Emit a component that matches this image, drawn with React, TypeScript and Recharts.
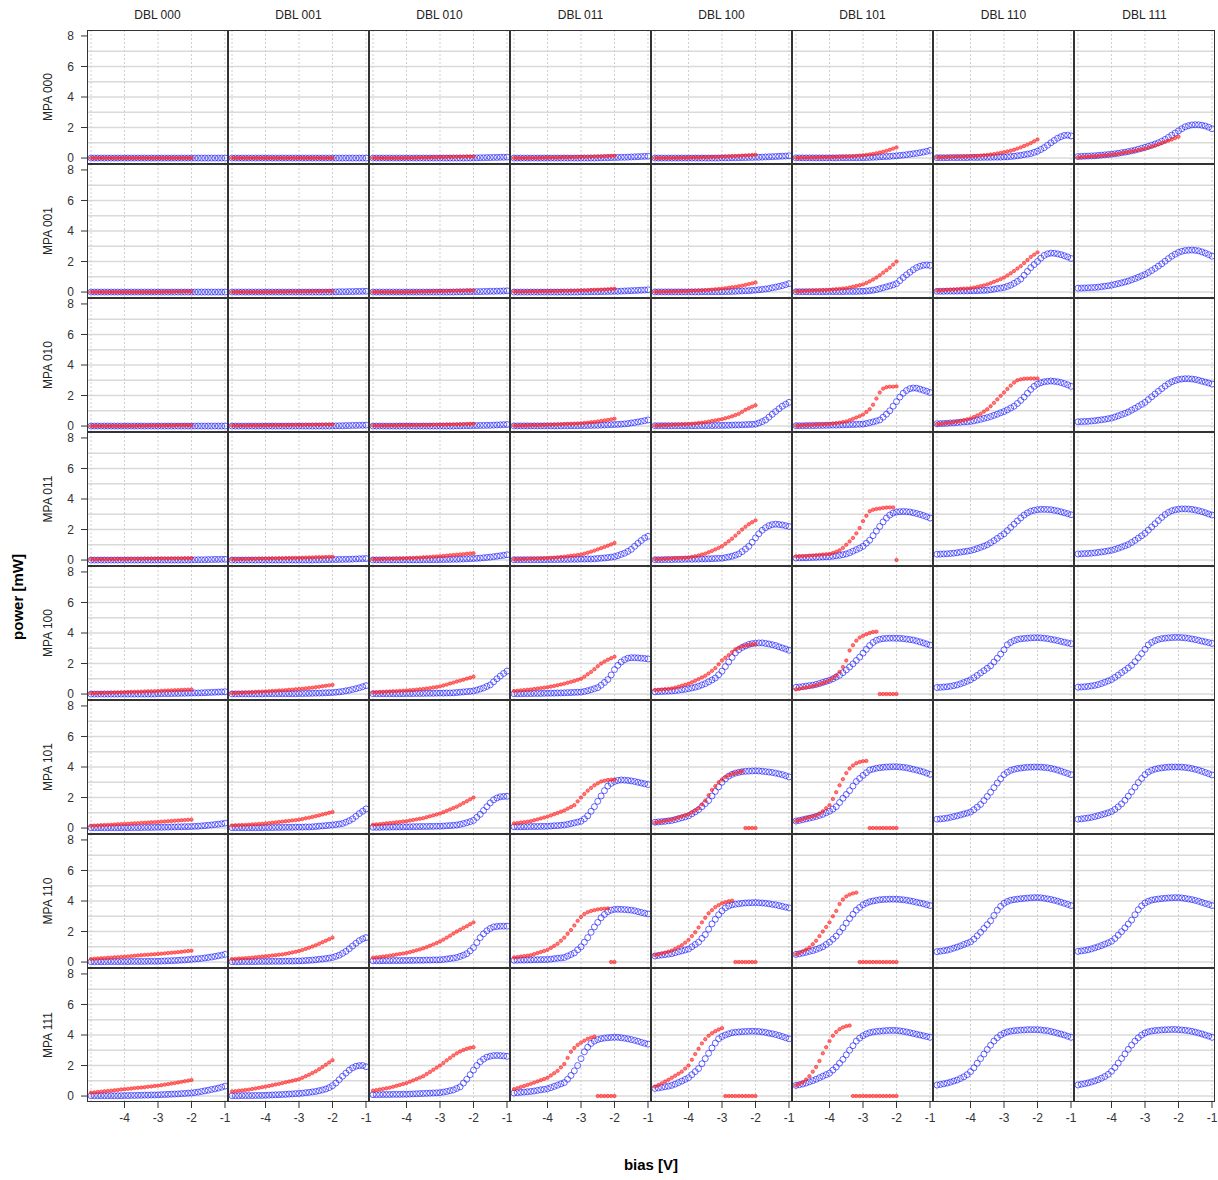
import React from "react";
import { ScatterChart, Scatter, XAxis, YAxis, ReferenceLine } from "recharts";

const dblLabels = ["DBL 000", "DBL 001", "DBL 010", "DBL 011", "DBL 100", "DBL 101", "DBL 110", "DBL 111"];
const mpaLabels = ["MPA 000", "MPA 001", "MPA 010", "MPA 011", "MPA 100", "MPA 101", "MPA 110", "MPA 111"];
const biasBlue = [-5, -4.9, -4.8, -4.7, -4.6, -4.5, -4.4, -4.3, -4.2, -4.1, -4, -3.9, -3.8, -3.7, -3.6, -3.5, -3.4, -3.3, -3.2, -3.1, -3, -2.9, -2.8, -2.7, -2.6, -2.5, -2.4, -2.3, -2.2, -2.1, -2, -1.9, -1.8, -1.7, -1.6, -1.5, -1.4, -1.3, -1.2, -1.1, -1];
const biasRed = biasBlue.slice(0, 31);
const yTicks = [0, 2, 4, 6, 8];
const xTicks = [-4, -3, -2, -1];
const hGrid = [0, 1, 2, 3, 4, 5, 6, 7];
const vGrid = [-5, -4, -3, -2, -1];

// ---- MPA 000 ----
const b00 = [0,0,0,0,0,0,0,0,0,0, 0,0,0,0,0,0,0,0,0,0, 0,0,0,0,0,0,0,0,0,0, 0,0,0,0,0,0,0,0,0,0, 0];
const r00 = [0,0,0,0,0,0,0,0,0,0, 0,0,0,0,0,0,0,0,0,0, 0,0,0,0,0,0,0,0,0,0, 0];
const b01 = [0,0,0,0,0,0,0,0,0,0, 0,0,0,0,0,0,0,0,0,0, 0,0,0,0,0,0,0,0,0,0, 0,0,0,0,0,0,0,0,0,0, 0];
const r01 = [0,0,0,0,0,0,0,0,0,0, 0,0,0,0,0,0,0,0,0,0, 0,0,0,0,0,0,0,0,0,0, 0];
const b02 = [0,0,0,0,0,0,0,0,0,0, 0,0,0,0,0,0,0,0,0,0, 0,0,0,0,0,0,0,0,0,0, 0.01,0.01,0.02,0.02,0.03,0.03,0.04,0.04,0.05,0.05, 0.06];
const r02 = [0,0,0,0,0,0,0,0,0,0, 0.01,0.01,0.02,0.02,0.03,0.03,0.04,0.04,0.05,0.05, 0.06,0.06,0.07,0.07,0.08,0.08,0.09,0.09,0.1,0.1, 0.1];
const b03 = [0,0,0,0,0,0,0,0,0,0, 0,0,0,0,0,0,0,0,0,0, 0,0,0,0,0,0.01,0.01,0.02,0.02,0.03, 0.03,0.04,0.05,0.05,0.06,0.07,0.08,0.09,0.1,0.11, 0.12];
const r03 = [0,0,0,0,0,0.01,0.01,0.01,0.02,0.02, 0.02,0.03,0.03,0.04,0.04,0.05,0.05,0.06,0.06,0.07, 0.07,0.08,0.08,0.09,0.1,0.1,0.11,0.12,0.13,0.14, 0.15];
const b04 = [0,0,0,0,0,0,0,0,0,0, 0,0,0,0,0,0,0,0,0,0, 0.01,0.01,0.01,0.02,0.02,0.02,0.03,0.03,0.04,0.04, 0.05,0.05,0.06,0.07,0.08,0.09,0.1,0.11,0.12,0.13, 0.15];
const r04 = [0,0,0,0,0.01,0.01,0.01,0.02,0.02,0.02, 0.03,0.03,0.04,0.04,0.05,0.05,0.06,0.07,0.07,0.08, 0.09,0.1,0.11,0.12,0.13,0.14,0.16,0.17,0.18,0.2, 0.22];
const b05 = [0.01,0.01,0.01,0.01,0.01,0.01,0.01,0.01,0.01,0.01, 0.01,0.01,0.01,0.02,0.02,0.02,0.02,0.02,0.02,0.02, 0.02,0.03,0.04,0.05,0.06,0.08,0.09,0.1,0.11,0.13, 0.15,0.17,0.19,0.22,0.25,0.28,0.31,0.35,0.39,0.44, 0.5];
const r05 = [0.02,0.02,0.03,0.03,0.03,0.04,0.04,0.05,0.05,0.06, 0.06,0.07,0.07,0.08,0.09,0.1,0.11,0.12,0.14,0.16, 0.18,0.21,0.24,0.27,0.31,0.36,0.41,0.47,0.54,0.62, 0.7];
const b06 = [0.02,0.02,0.02,0.02,0.03,0.03,0.03,0.03,0.03,0.03, 0.04,0.04,0.04,0.04,0.05,0.05,0.05,0.06,0.06,0.06, 0.07,0.08,0.1,0.12,0.15,0.18,0.22,0.26,0.3,0.37, 0.45,0.56,0.68,0.84,1.0,1.15,1.3,1.4,1.48,1.5, 1.45];
const r06 = [0.05,0.06,0.06,0.07,0.08,0.08,0.09,0.1,0.1,0.11, 0.12,0.13,0.14,0.16,0.18,0.2,0.23,0.26,0.3,0.34, 0.38,0.43,0.48,0.54,0.62,0.7,0.79,0.88,0.98,1.1, 1.22];
const b07 = [0.1,0.11,0.12,0.13,0.14,0.15,0.17,0.19,0.21,0.23, 0.25,0.28,0.31,0.35,0.38,0.42,0.47,0.52,0.58,0.64, 0.7,0.77,0.84,0.92,1.0,1.1,1.22,1.36,1.5,1.64, 1.78,1.92,2.05,2.12,2.17,2.18,2.18,2.15,2.1,2.02, 1.92];
const r07 = [0.05,0.06,0.08,0.09,0.11,0.12,0.14,0.16,0.18,0.2, 0.22,0.25,0.29,0.32,0.36,0.4,0.44,0.48,0.53,0.57, 0.62,0.68,0.75,0.82,0.9,0.98,1.06,1.14,1.22,1.31, 1.4];

// ---- MPA 001 ----
const b10 = [0,0,0,0,0,0,0,0,0,0, 0,0,0,0,0,0,0,0,0,0, 0,0,0,0,0,0,0,0,0,0, 0,0,0,0,0,0,0,0,0,0, 0];
const r10 = [0,0,0,0,0,0,0,0,0,0, 0,0,0,0,0,0,0,0,0,0, 0.01,0.01,0.02,0.02,0.02,0.03,0.03,0.03,0.04,0.04, 0.04];
const b11 = [0,0,0,0,0,0,0,0,0,0, 0,0,0,0,0,0,0,0,0,0, 0,0,0,0,0,0,0,0,0,0, 0.01,0.01,0.02,0.02,0.02,0.03,0.03,0.04,0.04,0.05, 0.05];
const r11 = [0,0,0,0,0,0,0,0,0,0, 0.01,0.01,0.01,0.02,0.02,0.02,0.02,0.03,0.03,0.03, 0.03,0.04,0.04,0.04,0.05,0.05,0.05,0.05,0.06,0.06, 0.06];
const b12 = [0,0,0,0,0,0,0,0,0,0, 0,0,0,0,0,0,0,0,0,0, 0,0,0,0,0,0.01,0.01,0.01,0.02,0.02, 0.02,0.03,0.03,0.04,0.04,0.05,0.05,0.06,0.06,0.07, 0.08];
const r12 = [0,0,0,0,0,0,0,0,0,0, 0.01,0.01,0.02,0.02,0.03,0.03,0.04,0.04,0.05,0.05, 0.06,0.06,0.07,0.07,0.08,0.08,0.09,0.09,0.1,0.1, 0.1];
const b13 = [0,0,0,0,0,0,0,0,0,0, 0,0,0,0,0,0,0,0,0,0, 0.01,0.01,0.01,0.02,0.02,0.02,0.03,0.03,0.04,0.04, 0.05,0.05,0.06,0.07,0.08,0.09,0.1,0.11,0.12,0.13, 0.15];
const r13 = [0.03,0.03,0.03,0.03,0.04,0.04,0.04,0.04,0.05,0.05, 0.05,0.06,0.06,0.07,0.07,0.08,0.08,0.09,0.09,0.1, 0.11,0.11,0.12,0.13,0.14,0.15,0.16,0.17,0.18,0.2, 0.22];
const b14 = [0.01,0.01,0.01,0.01,0.01,0.01,0.01,0.01,0.01,0.01, 0.01,0.01,0.01,0.01,0.02,0.02,0.02,0.02,0.02,0.02, 0.02,0.03,0.03,0.04,0.05,0.06,0.07,0.08,0.09,0.11, 0.13,0.15,0.17,0.2,0.23,0.28,0.32,0.37,0.42,0.48, 0.55];
const r14 = [0.02,0.02,0.03,0.03,0.04,0.04,0.05,0.05,0.06,0.06, 0.07,0.08,0.09,0.1,0.11,0.12,0.14,0.16,0.18,0.2, 0.22,0.25,0.28,0.31,0.34,0.38,0.42,0.47,0.52,0.57, 0.63];
const b15 = [0.02,0.02,0.02,0.02,0.02,0.02,0.02,0.02,0.02,0.02, 0.03,0.03,0.03,0.03,0.03,0.04,0.04,0.04,0.04,0.05, 0.05,0.07,0.09,0.12,0.16,0.22,0.28,0.34,0.4,0.47, 0.55,0.75,0.95,1.13,1.3,1.46,1.6,1.69,1.75,1.77, 1.75];
const r15 = [0.05,0.06,0.07,0.08,0.09,0.1,0.11,0.12,0.13,0.14, 0.15,0.17,0.19,0.21,0.23,0.25,0.3,0.35,0.4,0.45, 0.5,0.6,0.7,0.82,0.95,1.1,1.27,1.43,1.6,1.8, 2.0];
const b16 = [0.05,0.05,0.05,0.06,0.06,0.06,0.06,0.07,0.07,0.07, 0.08,0.08,0.09,0.1,0.11,0.12,0.15,0.19,0.23,0.26, 0.3,0.37,0.45,0.57,0.7,0.85,1.1,1.35,1.6,1.8, 2.0,2.22,2.4,2.5,2.55,2.54,2.5,2.45,2.38,2.3, 2.2];
const r16 = [0.1,0.11,0.13,0.14,0.16,0.17,0.19,0.21,0.22,0.23, 0.25,0.29,0.34,0.39,0.44,0.5,0.58,0.67,0.76,0.85, 0.95,1.09,1.23,1.38,1.54,1.7,1.9,2.1,2.3,2.45, 2.6];
const b17 = [0.25,0.26,0.27,0.28,0.29,0.3,0.32,0.35,0.38,0.41, 0.45,0.5,0.55,0.6,0.66,0.72,0.8,0.88,0.97,1.06, 1.15,1.28,1.41,1.55,1.7,1.85,2.02,2.19,2.35,2.48, 2.6,2.67,2.72,2.74,2.75,2.73,2.7,2.63,2.55,2.45, 2.35];

// ---- MPA 010 ----
const b20 = [0,0,0,0,0,0,0,0,0,0, 0,0,0,0,0,0,0,0,0,0, 0,0,0,0,0,0,0,0,0,0, 0,0,0,0,0,0,0,0,0,0, 0];
const r20 = [0,0,0,0,0,0,0,0,0,0, 0.01,0.01,0.01,0.01,0.02,0.02,0.02,0.02,0.03,0.03, 0.03,0.03,0.04,0.04,0.04,0.04,0.05,0.05,0.05,0.05, 0.05];
const b21 = [0,0,0,0,0,0,0,0,0,0, 0,0,0,0,0,0,0,0,0,0, 0,0,0,0,0,0,0,0,0,0, 0.01,0.01,0.02,0.02,0.03,0.03,0.04,0.04,0.05,0.05, 0.06];
const r21 = [0.03,0.03,0.03,0.03,0.03,0.04,0.04,0.04,0.04,0.04, 0.05,0.05,0.05,0.05,0.06,0.06,0.06,0.06,0.07,0.07, 0.07,0.07,0.08,0.08,0.08,0.09,0.09,0.09,0.1,0.1, 0.1];
const b22 = [0,0,0,0,0,0,0,0,0,0, 0,0,0,0,0,0,0,0,0,0, 0,0,0,0,0,0.01,0.01,0.02,0.02,0.02, 0.03,0.03,0.04,0.04,0.05,0.05,0.06,0.07,0.08,0.09, 0.1];
const r22 = [0.03,0.03,0.03,0.03,0.04,0.04,0.04,0.04,0.05,0.05, 0.05,0.05,0.06,0.06,0.06,0.07,0.07,0.07,0.08,0.08, 0.09,0.09,0.1,0.1,0.11,0.11,0.12,0.12,0.13,0.14, 0.15];
const b23 = [0.01,0.01,0.01,0.01,0.01,0.01,0.01,0.01,0.01,0.01, 0.01,0.01,0.01,0.01,0.01,0.02,0.02,0.02,0.02,0.02, 0.03,0.03,0.04,0.04,0.05,0.05,0.06,0.07,0.08,0.09, 0.1,0.11,0.12,0.14,0.16,0.2,0.23,0.27,0.31,0.35, 0.4];
const r23 = [0.03,0.03,0.04,0.04,0.05,0.05,0.06,0.06,0.07,0.07, 0.08,0.09,0.1,0.11,0.12,0.13,0.14,0.15,0.16,0.17, 0.18,0.2,0.22,0.25,0.27,0.3,0.33,0.37,0.4,0.44, 0.48];
const b24 = [0.02,0.02,0.02,0.02,0.02,0.02,0.02,0.02,0.02,0.02, 0.02,0.02,0.02,0.03,0.03,0.03,0.03,0.03,0.04,0.04, 0.04,0.05,0.05,0.06,0.07,0.07,0.08,0.09,0.1,0.11, 0.13,0.2,0.29,0.4,0.58,0.77,0.95,1.13,1.3,1.43, 1.55];
const r24 = [0.03,0.04,0.05,0.06,0.07,0.08,0.09,0.1,0.11,0.12, 0.13,0.15,0.17,0.2,0.22,0.25,0.29,0.33,0.37,0.41, 0.45,0.51,0.57,0.64,0.72,0.8,0.93,1.07,1.17,1.27, 1.36];
const b25 = [0.02,0.02,0.02,0.03,0.03,0.03,0.04,0.04,0.04,0.05, 0.05,0.06,0.06,0.07,0.07,0.08,0.09,0.1,0.11,0.12, 0.13,0.17,0.22,0.27,0.33,0.4,0.58,0.78,1.0,1.3, 1.6,1.9,2.15,2.33,2.45,2.49,2.48,2.42,2.35,2.28, 2.2];
const r25 = [0.03,0.04,0.05,0.06,0.07,0.08,0.09,0.1,0.11,0.12, 0.13,0.16,0.19,0.22,0.26,0.3,0.38,0.47,0.56,0.65, 0.75,0.92,1.1,1.4,1.8,2.2,2.45,2.55,2.58,2.58, 2.6];
const b26 = [0.15,0.16,0.17,0.18,0.2,0.21,0.23,0.25,0.27,0.28, 0.3,0.34,0.39,0.44,0.5,0.55,0.62,0.7,0.78,0.87, 0.95,1.06,1.18,1.3,1.48,1.68,1.9,2.15,2.4,2.6, 2.75,2.84,2.9,2.93,2.95,2.93,2.9,2.85,2.78,2.7, 2.6];
const r26 = [0.13,0.15,0.17,0.2,0.22,0.25,0.29,0.33,0.38,0.44, 0.5,0.59,0.69,0.8,0.95,1.1,1.3,1.52,1.75,1.98, 2.2,2.43,2.65,2.85,3.0,3.06,3.1,3.11,3.12,3.12, 3.12];
const b27 = [0.28,0.29,0.3,0.31,0.33,0.35,0.38,0.41,0.44,0.48, 0.52,0.59,0.67,0.75,0.83,0.92,1.04,1.16,1.29,1.42, 1.55,1.73,1.92,2.1,2.28,2.45,2.62,2.77,2.9,2.98, 3.05,3.08,3.1,3.1,3.08,3.05,3.0,2.94,2.88,2.82, 2.75];

// ---- MPA 011 ----
const b30 = [0,0,0,0,0,0,0,0,0,0, 0,0,0,0,0,0,0,0,0,0, 0,0,0,0,0,0,0,0,0,0, 0.01,0.01,0.02,0.02,0.02,0.03,0.03,0.04,0.04,0.05, 0.05];
const r30 = [0.05,0.05,0.05,0.05,0.06,0.06,0.06,0.06,0.07,0.07, 0.07,0.07,0.08,0.08,0.08,0.08,0.09,0.09,0.09,0.09, 0.1,0.1,0.1,0.1,0.11,0.11,0.11,0.11,0.12,0.12, 0.12];
const b31 = [0,0,0,0,0,0,0,0,0,0, 0,0,0,0,0,0,0,0,0,0, 0,0,0,0,0,0.01,0.01,0.02,0.02,0.02, 0.03,0.03,0.04,0.04,0.05,0.05,0.06,0.07,0.08,0.09, 0.1];
const r31 = [0.05,0.05,0.06,0.06,0.07,0.07,0.08,0.08,0.09,0.09, 0.1,0.1,0.11,0.11,0.12,0.12,0.13,0.13,0.14,0.14, 0.15,0.15,0.16,0.17,0.17,0.18,0.19,0.19,0.2,0.21, 0.22];
const b32 = [0.01,0.01,0.01,0.01,0.01,0.01,0.01,0.01,0.01,0.01, 0.01,0.01,0.01,0.01,0.01,0.02,0.02,0.02,0.02,0.02, 0.03,0.03,0.04,0.04,0.05,0.05,0.06,0.07,0.08,0.09, 0.1,0.11,0.13,0.15,0.17,0.19,0.22,0.25,0.28,0.31, 0.35];
const r32 = [0.05,0.06,0.06,0.07,0.08,0.08,0.09,0.1,0.1,0.11, 0.12,0.13,0.14,0.15,0.16,0.18,0.19,0.2,0.22,0.23, 0.25,0.27,0.29,0.31,0.33,0.35,0.37,0.39,0.41,0.43, 0.45];
const b33 = [0.02,0.02,0.02,0.02,0.02,0.02,0.02,0.02,0.02,0.02, 0.02,0.03,0.03,0.03,0.04,0.04,0.04,0.05,0.05,0.05, 0.06,0.06,0.07,0.07,0.08,0.1,0.12,0.14,0.16,0.19, 0.22,0.29,0.37,0.45,0.57,0.7,0.9,1.1,1.28,1.45, 1.55];
const r33 = [0.05,0.06,0.06,0.07,0.08,0.09,0.09,0.1,0.11,0.12, 0.13,0.14,0.16,0.18,0.2,0.22,0.25,0.28,0.3,0.33, 0.36,0.42,0.48,0.55,0.62,0.7,0.78,0.86,0.94,1.03, 1.12];
const b34 = [0.02,0.02,0.02,0.03,0.03,0.03,0.04,0.04,0.04,0.05, 0.05,0.05,0.06,0.06,0.07,0.07,0.08,0.09,0.1,0.11, 0.12,0.16,0.2,0.25,0.32,0.4,0.55,0.72,0.9,1.17, 1.45,1.72,1.95,2.12,2.25,2.32,2.35,2.33,2.3,2.25, 2.2];
const r34 = [0.05,0.06,0.07,0.08,0.1,0.11,0.12,0.13,0.14,0.15, 0.17,0.21,0.25,0.3,0.36,0.42,0.51,0.6,0.7,0.8, 0.9,1.07,1.23,1.4,1.6,1.8,2.0,2.18,2.35,2.48, 2.6];
const b35 = [0.13,0.14,0.15,0.15,0.16,0.17,0.18,0.19,0.2,0.21, 0.22,0.25,0.28,0.31,0.35,0.4,0.48,0.58,0.68,0.78, 0.9,1.1,1.3,1.6,1.9,2.2,2.5,2.75,2.95,3.08, 3.15,3.17,3.18,3.17,3.15,3.1,3.05,2.99,2.92,2.84, 2.75];
const r35 = [0.24,0.25,0.26,0.27,0.29,0.3,0.32,0.34,0.36,0.38, 0.4,0.46,0.54,0.64,0.8,1.0,1.22,1.45,1.75,2.1, 2.55,2.9,3.2,3.3,3.35,3.38,3.42,3.44,3.45,3.45, 0];
const b36 = [0.38,0.39,0.4,0.41,0.43,0.45,0.48,0.52,0.55,0.58, 0.62,0.68,0.75,0.83,0.91,1.0,1.13,1.27,1.42,1.57, 1.72,1.93,2.14,2.35,2.56,2.76,2.95,3.09,3.2,3.26, 3.3,3.32,3.32,3.31,3.3,3.26,3.22,3.16,3.1,3.04, 2.97];
const b37 = [0.4,0.41,0.42,0.43,0.45,0.47,0.5,0.53,0.56,0.6, 0.64,0.7,0.77,0.85,0.93,1.02,1.15,1.29,1.44,1.59, 1.75,1.96,2.17,2.38,2.59,2.79,2.98,3.12,3.23,3.29, 3.33,3.35,3.35,3.34,3.32,3.28,3.23,3.17,3.1,3.02, 2.95];

// ---- MPA 100 ----
const b40 = [0,0,0,0,0,0,0,0,0,0, 0,0,0,0,0,0,0,0,0,0, 0.02,0.02,0.03,0.03,0.03,0.04,0.04,0.05,0.05,0.06, 0.06,0.07,0.07,0.08,0.09,0.1,0.11,0.12,0.13,0.14, 0.15];
const r40 = [0.05,0.06,0.06,0.07,0.08,0.08,0.09,0.1,0.1,0.11, 0.12,0.13,0.14,0.14,0.15,0.16,0.17,0.18,0.18,0.19, 0.2,0.21,0.22,0.23,0.24,0.25,0.26,0.27,0.28,0.29, 0.3];
const b41 = [0.01,0.01,0.01,0.01,0.01,0.01,0.01,0.01,0.01,0.01, 0.02,0.02,0.02,0.02,0.02,0.02,0.02,0.02,0.02,0.02, 0.03,0.03,0.04,0.04,0.05,0.06,0.06,0.07,0.08,0.09, 0.1,0.12,0.14,0.17,0.21,0.25,0.3,0.35,0.41,0.48, 0.55];
const r41 = [0.06,0.07,0.08,0.09,0.1,0.11,0.12,0.14,0.15,0.16, 0.17,0.18,0.2,0.21,0.23,0.24,0.26,0.28,0.29,0.31, 0.33,0.35,0.37,0.4,0.42,0.45,0.48,0.51,0.54,0.57, 0.6];
const b42 = [0.02,0.02,0.02,0.02,0.02,0.02,0.02,0.02,0.02,0.02, 0.03,0.03,0.03,0.04,0.04,0.04,0.05,0.05,0.05,0.06, 0.06,0.06,0.07,0.07,0.08,0.1,0.12,0.14,0.16,0.18, 0.2,0.26,0.33,0.4,0.5,0.6,0.8,1.0,1.18,1.35, 1.5];
const r42 = [0.1,0.11,0.13,0.14,0.16,0.17,0.18,0.19,0.21,0.22, 0.23,0.25,0.27,0.29,0.31,0.33,0.36,0.39,0.43,0.46, 0.5,0.56,0.62,0.69,0.75,0.82,0.88,0.94,1.01,1.07, 1.14];
const b43 = [0.02,0.02,0.02,0.03,0.03,0.03,0.04,0.04,0.04,0.05, 0.05,0.06,0.06,0.07,0.07,0.08,0.09,0.1,0.11,0.12, 0.13,0.17,0.22,0.28,0.35,0.42,0.58,0.76,0.95,1.25, 1.6,1.88,2.1,2.25,2.35,2.38,2.38,2.37,2.35,2.33, 2.3];
const r43 = [0.2,0.22,0.24,0.26,0.28,0.3,0.33,0.36,0.39,0.42, 0.45,0.49,0.53,0.58,0.63,0.68,0.74,0.8,0.86,0.93, 1.0,1.14,1.3,1.45,1.63,1.82,2.0,2.13,2.25,2.35, 2.45];
const b44 = [0.15,0.16,0.17,0.18,0.19,0.2,0.22,0.25,0.28,0.31, 0.35,0.4,0.45,0.51,0.6,0.68,0.8,0.92,1.05,1.26, 1.5,1.8,2.1,2.4,2.7,2.9,3.05,3.16,3.25,3.3, 3.33,3.35,3.35,3.32,3.28,3.23,3.18,3.1,3.02,2.95, 2.87];
const r44 = [0.26,0.28,0.3,0.32,0.34,0.37,0.42,0.48,0.55,0.61, 0.68,0.77,0.87,0.98,1.09,1.2,1.35,1.52,1.7,1.95, 2.2,2.38,2.55,2.75,2.93,3.03,3.12,3.17,3.22,3.25, 3.28];
const b45 = [0.44,0.46,0.49,0.52,0.55,0.58,0.63,0.69,0.76,0.83, 0.9,1.0,1.11,1.23,1.4,1.58,1.77,1.98,2.2,2.42, 2.68,2.93,3.18,3.38,3.52,3.59,3.63,3.65,3.66,3.66, 3.65,3.65,3.63,3.6,3.57,3.54,3.48,3.42,3.35,3.28, 3.21];
const r45 = [0.31,0.35,0.39,0.43,0.47,0.52,0.58,0.65,0.72,0.8, 0.9,1.05,1.22,1.45,1.77,2.2,2.85,3.2,3.5,3.7, 3.82,3.92,4.0,4.07,4.09,0,0,0,0,0, 0];
const b46 = [0.43,0.44,0.46,0.48,0.51,0.55,0.6,0.67,0.75,0.84, 0.93,1.07,1.22,1.38,1.53,1.69,1.85,2.1,2.35,2.62, 2.9,3.23,3.38,3.5,3.58,3.62,3.64,3.66,3.68,3.69, 3.69,3.68,3.66,3.63,3.59,3.55,3.5,3.45,3.4,3.35, 3.3];
const b47 = [0.45,0.46,0.48,0.5,0.53,0.57,0.62,0.69,0.77,0.86, 0.95,1.09,1.24,1.4,1.55,1.71,1.88,2.12,2.38,2.65, 2.93,3.22,3.38,3.5,3.58,3.63,3.66,3.68,3.7,3.71, 3.71,3.7,3.68,3.65,3.61,3.57,3.52,3.47,3.42,3.37, 3.32];

// ---- MPA 101 ----
const b50 = [0.02,0.02,0.02,0.02,0.02,0.02,0.02,0.02,0.02,0.02, 0.02,0.02,0.03,0.03,0.03,0.03,0.04,0.04,0.04,0.05, 0.05,0.05,0.06,0.06,0.07,0.07,0.08,0.08,0.09,0.09, 0.1,0.11,0.12,0.14,0.16,0.18,0.2,0.23,0.25,0.28, 0.32];
const r50 = [0.15,0.16,0.17,0.19,0.2,0.21,0.22,0.23,0.25,0.26, 0.27,0.28,0.3,0.31,0.32,0.34,0.35,0.36,0.38,0.39, 0.4,0.42,0.43,0.45,0.46,0.48,0.49,0.51,0.52,0.54, 0.55];
const b51 = [0.02,0.02,0.02,0.02,0.02,0.02,0.02,0.02,0.02,0.02, 0.03,0.03,0.03,0.04,0.04,0.04,0.05,0.05,0.05,0.06, 0.06,0.06,0.07,0.07,0.08,0.1,0.12,0.14,0.16,0.18, 0.2,0.23,0.26,0.3,0.38,0.48,0.6,0.77,0.95,1.1, 1.25];
const r51 = [0.17,0.18,0.19,0.2,0.21,0.22,0.24,0.25,0.27,0.28, 0.3,0.32,0.35,0.37,0.4,0.42,0.45,0.47,0.5,0.52, 0.55,0.59,0.64,0.68,0.73,0.78,0.83,0.89,0.94,1.0, 1.05];
const b52 = [0.05,0.05,0.05,0.06,0.06,0.06,0.07,0.07,0.07,0.08, 0.08,0.08,0.09,0.09,0.1,0.1,0.1,0.11,0.11,0.12, 0.12,0.13,0.15,0.16,0.18,0.2,0.24,0.29,0.35,0.42, 0.5,0.7,0.9,1.15,1.4,1.65,1.85,1.97,2.05,2.07, 2.08];
const r52 = [0.22,0.24,0.26,0.28,0.31,0.33,0.35,0.38,0.4,0.43, 0.45,0.49,0.53,0.57,0.61,0.65,0.71,0.77,0.83,0.89, 0.95,1.04,1.13,1.22,1.31,1.4,1.52,1.64,1.76,1.88, 2.0];
const b53 = [0.08,0.08,0.08,0.09,0.09,0.1,0.1,0.1,0.11,0.11, 0.12,0.13,0.15,0.16,0.18,0.2,0.24,0.29,0.34,0.39, 0.45,0.6,0.8,1.1,1.4,1.75,2.1,2.45,2.75,2.93, 3.05,3.12,3.15,3.14,3.12,3.09,3.05,3.0,2.95,2.9, 2.85];
const r53 = [0.3,0.33,0.36,0.39,0.42,0.45,0.51,0.57,0.63,0.69, 0.75,0.83,0.91,0.99,1.07,1.15,1.27,1.38,1.5,1.75, 2.0,2.23,2.45,2.63,2.8,2.93,3.05,3.1,3.15,3.17, 3.18];
const b54 = [0.38,0.4,0.42,0.44,0.47,0.5,0.55,0.61,0.67,0.73, 0.8,0.93,1.06,1.2,1.4,1.6,1.8,2.1,2.4,2.7, 3.0,3.22,3.4,3.52,3.6,3.65,3.69,3.72,3.73,3.74, 3.75,3.74,3.72,3.7,3.67,3.64,3.6,3.55,3.5,3.43, 3.35];
const r54 = [0.35,0.39,0.43,0.47,0.51,0.55,0.62,0.69,0.76,0.83, 0.9,1.03,1.16,1.3,1.55,1.8,2.15,2.5,2.75,3.0, 3.18,3.35,3.45,3.55,3.6,3.65,3.72,0,0,0, 0];
const b55 = [0.46,0.5,0.55,0.6,0.65,0.7,0.76,0.83,0.9,1.0, 1.1,1.24,1.4,1.67,1.95,2.2,2.45,2.75,3.05,3.25, 3.45,3.63,3.8,3.86,3.92,3.95,3.98,4.0,4.01,4.02, 4.02,4.0,3.98,3.95,3.9,3.85,3.8,3.74,3.68,3.6, 3.52];
const r55 = [0.46,0.52,0.58,0.65,0.71,0.76,0.82,0.95,1.1,1.3, 1.5,1.9,2.35,2.8,3.2,3.6,3.9,4.1,4.25,4.33, 4.38,4.4,0,0,0,0,0,0,0,0, 0];
const b56 = [0.58,0.6,0.62,0.65,0.7,0.75,0.8,0.86,0.92,0.98, 1.05,1.2,1.37,1.55,1.8,2.07,2.35,2.65,2.95,3.23, 3.5,3.66,3.78,3.85,3.9,3.93,3.96,3.98,3.99,4.0, 4.0,3.99,3.97,3.95,3.91,3.86,3.8,3.73,3.65,3.58, 3.5];
const b57 = [0.58,0.6,0.63,0.66,0.7,0.75,0.81,0.87,0.93,1.0, 1.08,1.22,1.39,1.58,1.82,2.09,2.38,2.68,2.98,3.25, 3.5,3.67,3.78,3.86,3.91,3.94,3.97,3.99,4.0,4.0, 4.0,3.99,3.97,3.94,3.9,3.85,3.79,3.72,3.64,3.56, 3.48];

// ---- MPA 110 ----
const b60 = [0.02,0.02,0.02,0.02,0.02,0.03,0.03,0.03,0.03,0.03, 0.03,0.03,0.04,0.04,0.04,0.04,0.04,0.05,0.05,0.05, 0.05,0.06,0.07,0.08,0.09,0.1,0.11,0.13,0.14,0.16, 0.18,0.2,0.22,0.24,0.27,0.3,0.33,0.37,0.41,0.45, 0.5];
const r60 = [0.2,0.22,0.23,0.25,0.26,0.28,0.29,0.31,0.32,0.34, 0.35,0.37,0.39,0.41,0.43,0.45,0.47,0.48,0.5,0.51, 0.53,0.55,0.57,0.59,0.61,0.63,0.65,0.67,0.7,0.72, 0.74];
const b61 = [0.02,0.02,0.02,0.03,0.03,0.03,0.03,0.03,0.04,0.04, 0.04,0.04,0.05,0.05,0.05,0.05,0.06,0.06,0.06,0.07, 0.07,0.08,0.1,0.11,0.13,0.15,0.18,0.2,0.23,0.26, 0.3,0.37,0.45,0.57,0.7,0.87,1.05,1.23,1.4,1.52, 1.6];
const r61 = [0.2,0.21,0.23,0.24,0.26,0.27,0.29,0.31,0.34,0.36, 0.38,0.4,0.43,0.45,0.48,0.5,0.54,0.58,0.63,0.67, 0.72,0.79,0.86,0.94,1.02,1.1,1.2,1.3,1.4,1.5, 1.6];
const b62 = [0.08,0.08,0.08,0.09,0.09,0.09,0.1,0.1,0.1,0.1, 0.11,0.11,0.11,0.12,0.12,0.12,0.13,0.13,0.14,0.14, 0.15,0.17,0.2,0.23,0.26,0.3,0.37,0.45,0.55,0.73, 0.95,1.28,1.6,1.85,2.05,2.2,2.3,2.33,2.35,2.35, 2.35];
const r62 = [0.28,0.31,0.33,0.36,0.39,0.42,0.45,0.49,0.53,0.56, 0.6,0.65,0.71,0.77,0.83,0.9,0.98,1.07,1.16,1.25, 1.35,1.47,1.6,1.73,1.87,2.0,2.12,2.24,2.35,2.48, 2.6];
const b63 = [0.12,0.12,0.13,0.13,0.14,0.14,0.15,0.15,0.16,0.16, 0.17,0.19,0.22,0.25,0.27,0.3,0.39,0.49,0.6,0.8, 1.0,1.3,1.6,1.95,2.3,2.6,2.9,3.12,3.3,3.4, 3.45,3.46,3.45,3.44,3.42,3.4,3.36,3.3,3.25,3.2, 3.15];
const r63 = [0.3,0.33,0.36,0.39,0.42,0.45,0.52,0.59,0.66,0.73, 0.8,0.93,1.06,1.2,1.4,1.6,1.85,2.1,2.4,2.7, 2.95,3.15,3.27,3.35,3.4,3.45,3.48,3.5,3.52,0, 0];
const b64 = [0.4,0.43,0.46,0.49,0.52,0.55,0.61,0.67,0.73,0.79, 0.85,1.0,1.15,1.3,1.55,1.8,2.15,2.5,2.8,3.1, 3.35,3.55,3.67,3.75,3.79,3.82,3.85,3.87,3.88,3.89, 3.9,3.88,3.87,3.85,3.82,3.78,3.75,3.7,3.65,3.6, 3.55];
const r64 = [0.45,0.5,0.56,0.62,0.68,0.75,0.86,0.98,1.1,1.27, 1.45,1.7,1.95,2.27,2.6,2.9,3.2,3.4,3.6,3.73, 3.85,3.92,3.98,4.02,0,0,0,0,0,0, 0];
const b65 = [0.5,0.54,0.59,0.64,0.7,0.75,0.83,0.91,1.0,1.15, 1.3,1.5,1.7,1.97,2.25,2.55,2.85,3.13,3.4,3.58, 3.75,3.86,3.95,4.0,4.04,4.08,4.1,4.11,4.12,4.12, 4.12,4.1,4.08,4.05,4.01,3.97,3.92,3.87,3.82,3.76, 3.7];
const r65 = [0.5,0.6,0.7,0.82,0.95,1.17,1.4,1.7,2.0,2.3, 2.6,3.0,3.35,3.8,4.1,4.3,4.42,4.5,4.55,0, 0,0,0,0,0,0,0,0,0,0, 0];
const b66 = [0.68,0.71,0.74,0.78,0.84,0.91,0.98,1.06,1.15,1.23, 1.32,1.5,1.72,1.95,2.2,2.45,2.7,3.05,3.4,3.65, 3.85,3.97,4.05,4.09,4.12,4.15,4.17,4.19,4.21,4.22, 4.22,4.21,4.18,4.14,4.1,4.05,3.99,3.92,3.85,3.78, 3.7];
const b67 = [0.7,0.73,0.76,0.8,0.86,0.93,1.0,1.08,1.17,1.26, 1.36,1.54,1.76,1.99,2.24,2.49,2.75,3.1,3.43,3.68, 3.87,3.98,4.06,4.1,4.13,4.16,4.18,4.2,4.21,4.22, 4.22,4.2,4.17,4.13,4.09,4.04,3.98,3.91,3.84,3.77, 3.7];

// ---- MPA 111 ----
const b70 = [0.02,0.02,0.02,0.02,0.02,0.02,0.02,0.02,0.02,0.02, 0.03,0.03,0.04,0.04,0.05,0.05,0.06,0.06,0.07,0.07, 0.08,0.09,0.1,0.11,0.12,0.13,0.14,0.16,0.17,0.19, 0.2,0.23,0.26,0.3,0.34,0.38,0.43,0.47,0.52,0.58, 0.65];
const r70 = [0.22,0.24,0.27,0.29,0.31,0.33,0.35,0.38,0.4,0.43, 0.45,0.47,0.49,0.52,0.54,0.56,0.58,0.61,0.63,0.66, 0.68,0.71,0.75,0.78,0.82,0.85,0.89,0.93,0.97,1.01, 1.05];
const b71 = [0.02,0.02,0.02,0.03,0.03,0.03,0.03,0.04,0.04,0.04, 0.05,0.06,0.07,0.08,0.09,0.1,0.11,0.13,0.14,0.16, 0.17,0.19,0.22,0.24,0.27,0.3,0.35,0.4,0.46,0.55, 0.68,0.85,1.07,1.3,1.5,1.7,1.85,1.95,1.99,2.0, 1.92];
const r71 = [0.3,0.32,0.35,0.37,0.4,0.42,0.46,0.5,0.54,0.58, 0.62,0.66,0.71,0.76,0.8,0.85,0.9,0.95,1.0,1.05, 1.1,1.2,1.3,1.4,1.51,1.62,1.76,1.9,2.05,2.2, 2.35];
const b72 = [0.09,0.09,0.09,0.1,0.1,0.1,0.11,0.11,0.11,0.12, 0.12,0.13,0.14,0.15,0.16,0.17,0.18,0.19,0.2,0.21, 0.22,0.26,0.3,0.35,0.4,0.5,0.6,0.85,1.1,1.4, 1.7,2.0,2.25,2.42,2.55,2.61,2.65,2.66,2.65,2.63, 2.6];
const r72 = [0.35,0.39,0.43,0.47,0.51,0.55,0.61,0.67,0.73,0.79, 0.85,0.94,1.03,1.12,1.21,1.3,1.44,1.58,1.72,1.86, 2.0,2.17,2.34,2.5,2.66,2.8,2.92,3.02,3.1,3.16, 3.2];
const b73 = [0.2,0.22,0.24,0.26,0.28,0.3,0.33,0.37,0.41,0.44, 0.48,0.55,0.63,0.71,0.8,0.88,1.1,1.35,1.65,2.0, 2.45,2.9,3.2,3.45,3.6,3.7,3.76,3.8,3.82,3.84, 3.85,3.85,3.82,3.79,3.75,3.7,3.65,3.59,3.52,3.46, 3.4];
const r73 = [0.45,0.52,0.59,0.66,0.73,0.8,0.88,0.96,1.04,1.12, 1.2,1.35,1.5,1.65,1.88,2.1,2.5,2.9,3.15,3.35, 3.5,3.63,3.75,3.83,3.9,0,0,0,0,0, 0];
const b74 = [0.5,0.53,0.57,0.61,0.65,0.7,0.78,0.88,0.98,1.09, 1.2,1.4,1.6,1.8,2.12,2.45,2.8,3.15,3.47,3.75, 3.9,4.0,4.08,4.15,4.18,4.2,4.22,4.23,4.24,4.25, 4.24,4.23,4.2,4.17,4.12,4.08,4.03,3.97,3.9,3.82, 3.75];
const r74 = [0.62,0.72,0.83,0.95,1.07,1.2,1.33,1.46,1.6,1.8, 2.0,2.38,2.75,3.1,3.45,3.72,3.95,4.12,4.25,4.36, 4.45,0,0,0,0,0,0,0,0,0, 0];
const b75 = [0.7,0.74,0.79,0.85,0.93,1.01,1.1,1.2,1.3,1.4, 1.5,1.7,1.9,2.15,2.4,2.7,3.0,3.3,3.6,3.8, 3.95,4.07,4.15,4.2,4.23,4.25,4.27,4.29,4.3,4.3, 4.3,4.27,4.24,4.2,4.15,4.1,4.05,4.0,3.95,3.9, 3.85];
const r75 = [0.7,0.8,0.9,1.08,1.3,1.6,1.9,2.3,2.8,3.2, 3.6,3.95,4.2,4.38,4.5,4.58,4.62,0,0,0, 0,0,0,0,0,0,0,0,0,0, 0];
const b76 = [0.72,0.76,0.8,0.85,0.91,0.98,1.05,1.15,1.26,1.4, 1.6,1.85,2.15,2.45,2.75,3.05,3.33,3.6,3.82,4.0, 4.12,4.2,4.25,4.28,4.3,4.32,4.33,4.35,4.35,4.35, 4.35,4.33,4.3,4.28,4.23,4.18,4.12,4.06,4.0,3.92, 3.85];
const b77 = [0.73,0.77,0.81,0.86,0.92,0.99,1.07,1.17,1.28,1.42, 1.62,1.87,2.16,2.46,2.76,3.06,3.34,3.6,3.82,4.0, 4.13,4.21,4.26,4.29,4.31,4.33,4.34,4.35,4.36,4.36, 4.35,4.33,4.31,4.28,4.24,4.19,4.13,4.07,4.0,3.93, 3.85];

// tables built from the named arrays (row = MPA, column = DBL)
const blueTable: number[][][] = [
  [b00, b01, b02, b03, b04, b05, b06, b07],
  [b10, b11, b12, b13, b14, b15, b16, b17],
  [b20, b21, b22, b23, b24, b25, b26, b27],
  [b30, b31, b32, b33, b34, b35, b36, b37],
  [b40, b41, b42, b43, b44, b45, b46, b47],
  [b50, b51, b52, b53, b54, b55, b56, b57],
  [b60, b61, b62, b63, b64, b65, b66, b67],
  [b70, b71, b72, b73, b74, b75, b76, b77],
];
const redTable: (number[] | null)[][] = [
  [r00, r01, r02, r03, r04, r05, r06, r07],
  [r10, r11, r12, r13, r14, r15, r16, null],
  [r20, r21, r22, r23, r24, r25, r26, null],
  [r30, r31, r32, r33, r34, r35, null, null],
  [r40, r41, r42, r43, r44, r45, null, null],
  [r50, r51, r52, r53, r54, r55, null, null],
  [r60, r61, r62, r63, r64, r65, null, null],
  [r70, r71, r72, r73, r74, r75, null, null],
];

const FONT = "'Liberation Sans', Arial, Helvetica, sans-serif";
const GX = 87;
const GY = 30;
const PW = 141;
const PH = 134;
const YW = 32;
const XH = 30;
const ER = 12;

const BlueDot = (p: any) =>
  p.cx == null ? null : (
    <circle cx={p.cx} cy={p.cy} r={3} fill="none" stroke="#1a1aff" strokeOpacity={0.65} strokeWidth={1} />
  );
const RedDot = (p: any) =>
  p.cx == null ? null : (
    <circle cx={p.cx} cy={p.cy} r={1.7} fill="#ff2020" fillOpacity={0.6} stroke="#ff2020" strokeOpacity={0.75} strokeWidth={0.8} />
  );

function Panel({ row, col }: { row: number; col: number }) {
  const isLeft = col === 0;
  const isBottom = row === 7;
  const yw = isLeft ? YW : 0;
  const xh = isBottom ? XH : 0;
  const er = isBottom ? ER : 0;
  const blue = biasBlue.map((x, i) => ({ x, y: blueTable[row][col][i] }));
  const redArr = redTable[row][col];
  const red = redArr ? biasRed.map((x, i) => ({ x, y: redArr[i] })) : null;
  return (
    <div style={{ position: "absolute", left: GX + col * PW - yw, top: GY + row * PH, width: PW + yw + er, height: PH + xh }}>
      <ScatterChart width={PW + yw + er} height={PH + xh} margin={{ top: 0, right: er, bottom: 0, left: 0 }}>
        <XAxis
          type="number"
          dataKey="x"
          domain={[-5.12, -0.91]}
          ticks={xTicks}
          interval={0}
          allowDataOverflow
          hide={!isBottom}
          height={isBottom ? XH : 0}
          axisLine={false}
          tickLine={{ stroke: "#333" }}
          tickSize={6}
          tickMargin={5}
          tick={{ fill: "#333", fontSize: 12, fontFamily: FONT }}
        />
        <YAxis
          type="number"
          dataKey="y"
          domain={[-0.39, 8.39]}
          ticks={yTicks}
          interval={0}
          allowDataOverflow
          hide={!isLeft}
          width={isLeft ? YW : 0}
          axisLine={false}
          tickLine={{ stroke: "#333" }}
          tickSize={6}
          tickMargin={7}
          tick={{ fill: "#333", fontSize: 12, fontFamily: FONT }}
        />
        {hGrid.map((v) => (
          <ReferenceLine key={"h" + v} y={v} stroke="#dadada" strokeWidth={1.5} />
        ))}
        {vGrid.map((v) => (
          <ReferenceLine key={"v" + v} x={v} stroke="#cfcfcf" strokeWidth={1} strokeDasharray="2 2" />
        ))}
        <Scatter data={blue} isAnimationActive={false} shape={BlueDot} />
        {red && <Scatter data={red} isAnimationActive={false} shape={RedDot} />}
      </ScatterChart>
      <div
        style={{
          position: "absolute",
          left: yw,
          top: 0,
          width: PW,
          height: PH,
          border: "1px solid #333",
          boxSizing: "border-box",
          pointerEvents: "none",
        }}
      />
    </div>
  );
}

export default function App() {
  const panels: React.ReactNode[] = [];
  for (let r = 0; r < 8; r++) {
    for (let c = 0; c < 8; c++) {
      panels.push(<Panel key={r + "-" + c} row={r} col={c} />);
    }
  }
  return (
    <div style={{ position: "absolute", left: 0, top: 0, width: 1218, height: 1180, background: "#fff", fontFamily: FONT, color: "#222" }}>
      {dblLabels.map((t, c) => (
        <div key={t} style={{ position: "absolute", left: GX + c * PW, top: 7, width: PW, textAlign: "center", fontSize: 12, lineHeight: "16px" }}>
          {t}
        </div>
      ))}
      {mpaLabels.map((t, r) => (
        <div
          key={t}
          style={{
            position: "absolute",
            left: 48 - PH / 2,
            top: GY + r * PH + PH / 2 - 8,
            width: PH,
            height: 16,
            lineHeight: "16px",
            textAlign: "center",
            fontSize: 12,
            transform: "rotate(-90deg)",
          }}
        >
          {t}
        </div>
      ))}
      <div
        style={{
          position: "absolute",
          left: 18 - 100,
          top: 597 - 10,
          width: 200,
          height: 20,
          lineHeight: "20px",
          textAlign: "center",
          fontSize: 15,
          fontWeight: "bold",
          color: "#000",
          transform: "rotate(-90deg)",
        }}
      >
        power [mW]
      </div>
      <div
        style={{
          position: "absolute",
          left: 651 - 100,
          top: 1165 - 10,
          width: 200,
          height: 20,
          lineHeight: "20px",
          textAlign: "center",
          fontSize: 15,
          fontWeight: "bold",
          color: "#000",
        }}
      >
        bias [V]
      </div>
      {panels}
    </div>
  );
}
